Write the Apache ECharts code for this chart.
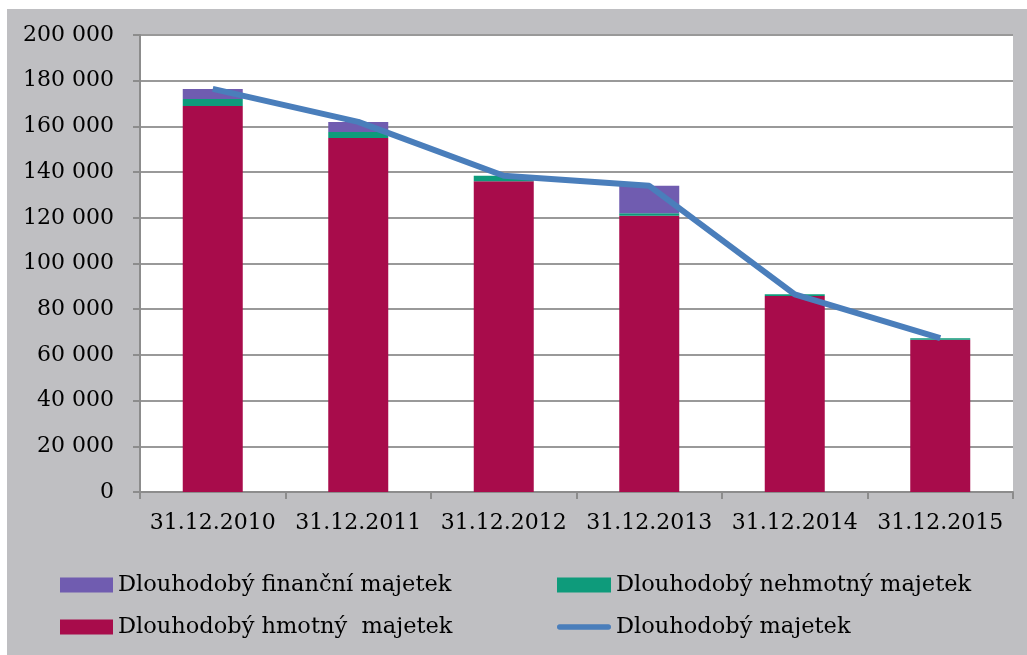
<!DOCTYPE html>
<html>
<head>
<meta charset="utf-8">
<script src="https://cdn.jsdelivr.net/npm/echarts@6/dist/echarts.min.js"></script>
<style>
html,body{margin:0;padding:0;background:#fff;}
#c{width:1027px;height:655px;}
</style>
</head>
<body>
<div id="c"></div>
<script>
const categories = ['31.12.2010','31.12.2011','31.12.2012','31.12.2013','31.12.2014','31.12.2015'];
const hmotny = [168900, 154900, 136000, 120900, 85800, 66600];
const nehmotny = [3100, 2600, 2400, 1100, 700, 700];
const financni = [4400, 4400, 0, 12000, 0, 0];
const celkem = [176400, 162000, 138400, 134000, 86500, 67300];
const seriesNames = ['Dlouhodobý finanční majetek','Dlouhodobý nehmotný majetek','Dlouhodobý hmotný  majetek','Dlouhodobý majetek'];

const FONT = 'DejaVu Serif';
const lineIcon = 'path://M5,0 H95 A5,5 0 0 1 95,10 H5 A5,5 0 0 1 5,0 Z';
const chart = echarts.init(document.getElementById('c'), null, {renderer:'canvas'});
chart.setOption({
  animation:false,
  backgroundColor:'#ffffff',
  graphic:[{type:'rect', z:-10, shape:{x:7,y:9,width:1030,height:660}, style:{fill:'#bfbfc2'}, silent:true}],
  grid:{left:140, right:14, top:35, bottom:163, show:true, backgroundColor:'#ffffff', borderWidth:0},
  legend:[
    {left:55, top:567, orient:'vertical', icon:'rect', itemWidth:53, itemHeight:15, itemGap:16,
     data:[seriesNames[0], seriesNames[2]],
     textStyle:{fontFamily:FONT, fontSize:22.5, color:'#000', lineHeight:26}},
    {left:552, top:567, orient:'vertical', icon:'rect', itemWidth:54, itemHeight:15, itemGap:16,
     data:[seriesNames[1], {name:seriesNames[3], icon:lineIcon}],
     textStyle:{fontFamily:FONT, fontSize:22.5, color:'#000', lineHeight:26}}
  ],
  xAxis:{type:'category', data:categories,
    axisLine:{lineStyle:{color:'#8c8c8c', width:2}},
    axisTick:{show:true, length:7, lineStyle:{color:'#8c8c8c', width:2}},
    axisLabel:{fontFamily:FONT, fontSize:22, color:'#000', margin:20, interval:0}},
  yAxis:{type:'value', min:0, max:200000, interval:20000,
    axisLine:{show:true, lineStyle:{color:'#8c8c8c', width:2}},
    axisTick:{show:true, length:7, lineStyle:{color:'#8c8c8c', width:2}},
    splitLine:{lineStyle:{color:'#999999', width:2}},
    axisLabel:{fontFamily:FONT, fontSize:22, color:'#000', margin:26,
      formatter:v=>String(v).replace(/\B(?=(\d{3})+(?!\d))/g,' ')}},
  series:[
    {name:seriesNames[2], type:'bar', stack:'a', barWidth:60, data:hmotny, itemStyle:{color:'#a80c4b'}},
    {name:seriesNames[1], type:'bar', stack:'a', data:nehmotny, itemStyle:{color:'#0e9b7b'}},
    {name:seriesNames[0], type:'bar', stack:'a', data:financni, itemStyle:{color:'#705cb0'}},
    {name:seriesNames[3], type:'line', data:celkem, symbol:'none', z:5,
     lineStyle:{color:'#4a7ebb', width:6}, itemStyle:{color:'#4a7ebb'}}
  ]
});
</script>
</body>
</html>
